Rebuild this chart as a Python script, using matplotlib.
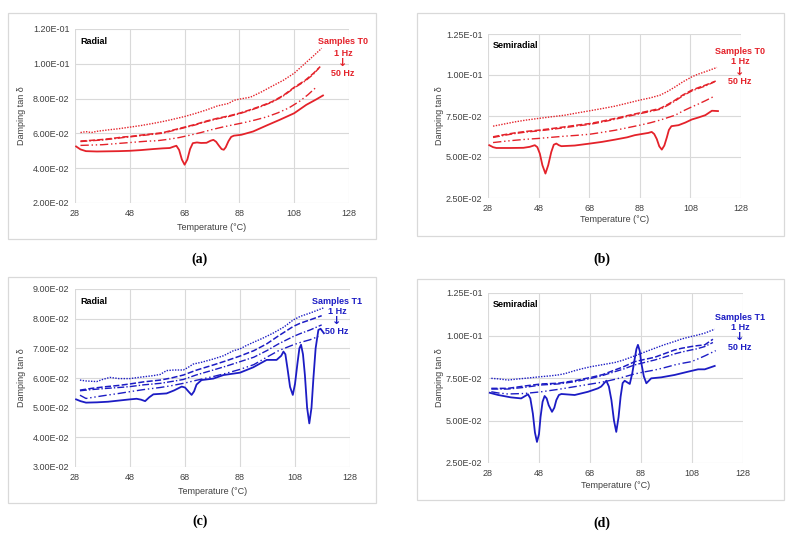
import matplotlib
matplotlib.use("Agg")
import matplotlib.pyplot as plt
from matplotlib.patches import Rectangle
from matplotlib.ticker import FuncFormatter

# ---------------- data ----------------
# Panel (a) Radial, T0
a_t1 = [30, 32, 34, 36, 40, 44, 48, 52, 56, 60, 64, 68, 72, 76, 80, 84, 86, 88, 92, 96, 100, 104, 108, 112, 115, 118]
a_v1 = [0.0605, 0.0610, 0.0605, 0.0612, 0.0620, 0.0627, 0.0636, 0.0645, 0.0656, 0.0668, 0.0682, 0.0697, 0.0715, 0.0735,
        0.0758, 0.0772, 0.0790, 0.0797, 0.0808, 0.0838, 0.0872, 0.0905, 0.0946, 0.1003, 0.1045, 0.1089]
a_t2 = [30, 34, 38, 42, 46, 48, 52, 56, 60, 64, 68, 72, 76, 80, 84, 88, 92, 96, 100, 104, 108, 112, 115, 117.5]
a_v2 = [0.0556, 0.0560, 0.0565, 0.0572, 0.0580, 0.0582, 0.0590, 0.0597, 0.0604, 0.0620, 0.0636, 0.0652, 0.0671, 0.0687,
        0.0700, 0.0716, 0.0736, 0.0758, 0.0783, 0.0818, 0.0865, 0.0905, 0.0945, 0.0984]
a_t3 = [30, 34, 38, 42, 46, 48, 52, 56, 60, 64, 68, 72, 76, 80, 84, 88, 92, 96, 100, 104, 108, 112, 115, 117]
a_v3 = [0.0553, 0.0558, 0.0562, 0.0569, 0.0577, 0.0580, 0.0587, 0.0594, 0.0601, 0.0617, 0.0633, 0.0649, 0.0668, 0.0684,
        0.0697, 0.0713, 0.0733, 0.0755, 0.0780, 0.0815, 0.0861, 0.0901, 0.0940, 0.0975]
a_t4 = [30, 34, 38, 42, 46, 50, 54, 58, 62, 66, 70, 74, 78, 82, 86, 90, 94, 98, 102, 106, 110, 113, 116]
a_v4 = [0.0531, 0.0533, 0.0535, 0.0540, 0.0545, 0.0550, 0.0555, 0.0558, 0.0566, 0.0576, 0.0590, 0.0605, 0.0622, 0.0637,
        0.0650, 0.0663, 0.0678, 0.0695, 0.0718, 0.0746, 0.0785, 0.0822, 0.0865]
a_t5 = [28.4, 30, 32, 36, 40, 44, 48, 52, 56.5, 60, 62.6, 64, 65, 66, 67, 68, 69, 70, 71, 72.5, 74, 76, 77.5, 78.5, 79.5,
        80.5, 81.5, 82.3, 83, 84, 85, 86, 88.7, 93, 98, 102.7, 108, 112.4, 116, 118.5]
a_v5 = [0.0525, 0.0508, 0.0498, 0.0496, 0.0497, 0.0498, 0.0500, 0.0504, 0.0510, 0.0514, 0.0516, 0.0524, 0.0529, 0.0505,
        0.0450, 0.0420, 0.0450, 0.0510, 0.0544, 0.0548, 0.0545, 0.0546, 0.0558, 0.0563, 0.0552, 0.0530, 0.0510, 0.0506,
        0.0520, 0.0555, 0.0580, 0.0587, 0.0592, 0.0611, 0.0646, 0.0678, 0.0716, 0.0764, 0.0795, 0.0818]

# Panel (b) Semiradial, T0
b_t1 = [30, 34, 38.6, 43, 47.8, 53, 58.4, 63, 68.3, 73, 78.2, 83, 88, 92, 96, 99, 102, 105, 108.6, 111, 113.9, 118.5]
b_v1 = [0.0688, 0.0700, 0.0714, 0.0725, 0.0735, 0.0745, 0.0755, 0.0768, 0.0782, 0.0795, 0.0810, 0.0828, 0.0847, 0.0860,
        0.0877, 0.0900, 0.0928, 0.0958, 0.0989, 0.1005, 0.1020, 0.1046]
b_t2 = [30, 34, 38.6, 43, 47.8, 53, 58.4, 63, 68.3, 73, 78.2, 83, 88, 92, 96, 99, 102, 105, 108.6, 111, 113.9, 118]
b_v2 = [0.0623, 0.0635, 0.0647, 0.0656, 0.0663, 0.0673, 0.0684, 0.0694, 0.0704, 0.0718, 0.0735, 0.0752, 0.0769, 0.0782,
        0.0796, 0.0820, 0.0847, 0.0878, 0.0908, 0.0922, 0.0938, 0.0963]
b_t3 = [30, 34, 38.6, 43, 47.8, 53, 58.4, 63, 68.3, 73, 78.2, 83, 88, 92, 96, 99, 102, 105, 108.6, 111, 113.9, 117.5]
b_v3 = [0.0619, 0.0631, 0.0643, 0.0652, 0.0659, 0.0668, 0.0679, 0.0689, 0.0699, 0.0713, 0.0730, 0.0747, 0.0764, 0.0777,
        0.0791, 0.0815, 0.0842, 0.0873, 0.0903, 0.0917, 0.0933, 0.0958]
b_t4 = [30, 34, 38.6, 43, 47.8, 53, 58.4, 63, 68.3, 73, 78.2, 83, 88, 92, 96, 99, 102, 105, 108.6, 111, 113.9, 117]
b_v4 = [0.0588, 0.0595, 0.0602, 0.0608, 0.0613, 0.0620, 0.0627, 0.0632, 0.0639, 0.0650, 0.0663, 0.0678, 0.0694, 0.0708,
        0.0725, 0.0740, 0.0755, 0.0780, 0.0806, 0.0822, 0.0843, 0.0867]
b_t5 = [28.5, 30, 31.3, 37, 42, 44.5, 46.5, 47.5, 48.5, 49.5, 50.7, 51.8, 53, 54, 55, 56, 57, 62.3, 68.3, 73, 78.2, 83, 86,
        91.4, 92.7, 93.7, 94.7, 95.7, 96.7, 97.7, 98.7, 99.5, 100.5, 103.3, 106, 108.6, 111, 113.9, 116.5, 118.9]
b_v5 = [0.0572, 0.0560, 0.0555, 0.0555, 0.0556, 0.0562, 0.0572, 0.0560, 0.0520, 0.0450, 0.0399, 0.0450, 0.0530, 0.0575,
        0.0582, 0.0572, 0.0566, 0.0570, 0.0582, 0.0592, 0.0606, 0.0620, 0.0633, 0.0647, 0.0653, 0.0640, 0.0610, 0.0565,
        0.0545, 0.0570, 0.0620, 0.0665, 0.0688, 0.0694, 0.0710, 0.0729, 0.0740, 0.0755, 0.0782, 0.0780]

# Panel (c) Radial, T1
c_t1 = [29.8, 32, 35.9, 38, 40.7, 44, 48, 52, 56.5, 59, 61.3, 64, 67.4, 69, 71, 74, 78.3, 82, 85.6, 88, 90, 92.8, 96, 100,
        104, 107.4, 110, 113.5, 118.3]
c_v1 = [0.0593, 0.0590, 0.0588, 0.0595, 0.0602, 0.0598, 0.0598, 0.0603, 0.0608, 0.0612, 0.0625, 0.0627, 0.0627, 0.0635,
        0.0647, 0.0653, 0.0664, 0.0675, 0.0692, 0.0698, 0.0708, 0.0720, 0.0733, 0.0751, 0.0772, 0.0796, 0.0808, 0.0819, 0.0836]
c_t2 = [29.8, 34, 39.5, 44, 48, 53, 59, 63, 67.4, 72, 78.3, 83, 88, 93, 97.7, 102, 107.4, 110, 113.5, 117.7]
c_v2 = [0.0559, 0.0565, 0.0571, 0.0575, 0.0580, 0.0587, 0.0593, 0.0600, 0.0610, 0.0626, 0.0644, 0.0658, 0.0674, 0.0692,
        0.0715, 0.0742, 0.0774, 0.0785, 0.0796, 0.0810]
c_t3 = [29.8, 34, 39.5, 44, 48, 53, 59, 63, 67.4, 72, 78.3, 83, 88, 93, 97.7, 102, 107.4, 110, 113.5, 117.7]
c_v3 = [0.0557, 0.0561, 0.0565, 0.0568, 0.0571, 0.0577, 0.0582, 0.0588, 0.0595, 0.0610, 0.0627, 0.0640, 0.0655, 0.0670,
        0.0692, 0.0715, 0.0740, 0.0750, 0.0762, 0.0779]
c_t4 = [29.8, 32, 36, 39.5, 44, 48, 53, 59, 63, 67.4, 72, 78.3, 83, 88, 93, 97.7, 102, 107.4, 110, 113.5, 116.5]
c_v4 = [0.0542, 0.0531, 0.0537, 0.0542, 0.0548, 0.0554, 0.0561, 0.0568, 0.0574, 0.0582, 0.0592, 0.0605, 0.0616, 0.0629,
        0.0645, 0.0670, 0.0692, 0.0712, 0.0720, 0.0729, 0.0740]
c_t5 = [28.4, 30, 32, 36, 40, 44, 48, 50.4, 52, 53.5, 55, 56.5, 61.3, 64, 66.8, 68, 69.5, 70.4, 71.3, 72.2, 74, 78.3, 82,
        88, 92.8, 97.7, 101.3, 103, 103.8, 104.5, 105.3, 106.2, 107.2, 108, 108.9, 109.6, 110.2, 110.9, 111.6, 112.4, 113.2,
        114, 114.7, 115.5, 116.5, 117.3, 118.5]
c_v5 = [0.0528, 0.0522, 0.0517, 0.0518, 0.0520, 0.0524, 0.0528, 0.0530, 0.0527, 0.0522, 0.0535, 0.0545, 0.0548, 0.0558,
        0.0571, 0.0568, 0.0552, 0.0543, 0.0555, 0.0578, 0.0593, 0.0598, 0.0610, 0.0618, 0.0636, 0.0661, 0.0661, 0.0675,
        0.0689, 0.0680, 0.0630, 0.0570, 0.0543, 0.0580, 0.0650, 0.0700, 0.0712, 0.0680, 0.0610, 0.0500, 0.0447, 0.0500,
        0.0600, 0.0700, 0.0762, 0.0766, 0.0751]

# Panel (d) Semiradial, T1
d_t1 = [29.3, 32, 35.8, 39, 42.4, 45, 48.9, 52, 55.5, 58, 62, 65, 68.5, 72, 77.7, 81, 85.5, 89, 93.4, 97, 101.2, 104,
        107.7, 110, 113, 116.9]
d_v1 = [0.0748, 0.0745, 0.0738, 0.0743, 0.0748, 0.0752, 0.0758, 0.0762, 0.0768, 0.0775, 0.0793, 0.0805, 0.0817, 0.0826,
        0.0841, 0.0855, 0.0880, 0.0900, 0.0925, 0.0945, 0.0965, 0.0980, 0.0994, 0.1002, 0.1014, 0.1037]
d_t2 = [29.3, 35.8, 42.4, 48.9, 55.5, 62, 68.5, 73, 77.7, 81, 85.5, 89, 93.4, 97, 101.2, 104, 107.7, 110, 113, 116.2]
d_v2 = [0.0689, 0.0689, 0.0703, 0.0715, 0.0719, 0.0734, 0.0754, 0.0770, 0.0797, 0.0815, 0.0846, 0.0858, 0.0872, 0.0892,
        0.0915, 0.0925, 0.0935, 0.0940, 0.0945, 0.0978]
d_t3 = [29.3, 35.8, 42.4, 48.9, 55.5, 62, 68.5, 73, 77.7, 81, 85.5, 89, 93.4, 97, 101.2, 104, 107.7, 110, 113, 116.2]
d_v3 = [0.0685, 0.0685, 0.0695, 0.0709, 0.0715, 0.0728, 0.0748, 0.0765, 0.0787, 0.0802, 0.0827, 0.0840, 0.0856, 0.0872,
        0.0892, 0.0903, 0.0915, 0.0922, 0.0935, 0.0959]
d_t4 = [29.3, 32, 35.8, 42.4, 48.9, 55.5, 62, 68.5, 73, 77.7, 81, 85.5, 89, 93.4, 97, 101.2, 104, 107.7, 110, 113, 117.3]
d_v4 = [0.0669, 0.0662, 0.0656, 0.0659, 0.0669, 0.0683, 0.0699, 0.0715, 0.0726, 0.0742, 0.0755, 0.0774, 0.0785, 0.0797,
        0.0810, 0.0827, 0.0836, 0.0846, 0.0860, 0.0880, 0.0911]
d_t5 = [28.7, 32, 37, 41, 43.7, 44.6, 45.6, 46.4, 47.2, 48, 48.6, 49.4, 50.2, 51, 51.8, 53.1, 54, 54.8, 55.8, 56.8, 62,
        67.2, 71.1, 72.4, 74.4, 75.4, 76.4, 77.4, 78.3, 79.2, 80, 80.8, 81.6, 83.6, 84.6, 85.5, 86.2, 86.8, 87.5, 88.1,
        89.1, 90.1, 92, 96, 101.2, 106.4, 110.4, 113, 116.9]
d_v5 = [0.0663, 0.0650, 0.0636, 0.0630, 0.0654, 0.0630, 0.0540, 0.0430, 0.0374, 0.0420, 0.0520, 0.0610, 0.0644, 0.0630,
        0.0590, 0.0551, 0.0575, 0.0620, 0.0650, 0.0656, 0.0650, 0.0669, 0.0689, 0.0700, 0.0734, 0.0700, 0.0620, 0.0500,
        0.0433, 0.0520, 0.0640, 0.0720, 0.0734, 0.0715, 0.0780, 0.0860, 0.0920, 0.0945, 0.0910, 0.0840, 0.0760, 0.0719,
        0.0748, 0.0754, 0.0768, 0.0787, 0.0801, 0.0801, 0.0821]

x_ticks = [28, 48, 68, 88, 108, 128]
a_yticks = [0.02, 0.04, 0.06, 0.08, 0.10, 0.12]
b_yticks = [0.025, 0.05, 0.075, 0.10, 0.125]
c_yticks = [0.03, 0.04, 0.05, 0.06, 0.07, 0.08, 0.09]
d_yticks = [0.025, 0.05, 0.075, 0.10, 0.125]

# ---------------- layout / styling ----------------
W, H = 795, 546
fig = plt.figure(figsize=(W / 100, H / 100), dpi=100)
plt.rcParams['font.family'] = ['Liberation Sans', 'DejaVu Sans']

RED = '#e4222a'
BLUE = '#1c1cc4'
GRID = '#d9d9d9'
TXT = '#404040'
styles = [
    dict(ls=(0, (1, 1)), lw=1.0),
    dict(ls=(0, (4, 1.5)), lw=1.1),
    dict(ls=(0, (5, 1.5, 1, 1.5)), lw=1.0),
    dict(ls=(0, (6, 2, 1, 2, 1, 2)), lw=1.0),
    dict(ls='-', lw=1.3),
]


def fx(px):
    return px / W


def fy(py):
    return 1 - py / H


def add_box(l, t, r, b):
    fig.patches.append(Rectangle((fx(l), fy(b)), fx(r) - fx(l), fy(t) - fy(b), transform=fig.transFigure,
                                 fill=False, edgecolor=GRID, lw=0.9))


def make_axes(l, t, r, b, yticks, series, color, title, legend_title, leg_x, leg_y,
              ylab_x, xlab_y, label, lab_x, lab_y):
    ax = fig.add_axes([fx(l), fy(b), fx(r) - fx(l), fy(t) - fy(b)])
    for (tt, vv), st in zip(series, styles):
        ax.plot(tt, vv, color=color, **st)
    ax.set_xlim(28, 128)
    ax.set_ylim(yticks[0], yticks[-1])
    ax.set_xticks(x_ticks)
    ax.set_yticks(yticks)
    ax.yaxis.set_major_formatter(FuncFormatter(lambda v, p: f"{v:.2E}"))
    ax.grid(True, color=GRID, lw=0.8)
    ax.set_axisbelow(True)
    for s in ax.spines.values():
        s.set_visible(False)
    ax.tick_params(length=0, labelsize=6.5, colors=TXT, pad=4)
    ax.text(0.02, 0.93, title, transform=ax.transAxes, fontsize=6.5, fontweight='bold', color='black', va='center')
    fig.text(fx(ylab_x), fy((t + b) / 2), 'Damping tan δ', rotation=90, fontsize=6.5, color=TXT,
             ha='center', va='center')
    fig.text(fx((l + r) / 2), fy(xlab_y), 'Temperature (°C)', fontsize=6.5, color=TXT, ha='center', va='center')
    fig.text(fx(leg_x), fy(leg_y[0]), legend_title, fontsize=6.5, fontweight='bold', color=color,
             ha='center', va='center')
    fig.text(fx(leg_x), fy(leg_y[1]), '1 Hz', fontsize=6.5, fontweight='bold', color=color, ha='center', va='center')
    fig.text(fx(leg_x), fy(leg_y[2]), '↓', fontsize=8, fontweight='bold', color=color, ha='center', va='center',
             family=['DejaVu Sans'])
    fig.text(fx(leg_x), fy(leg_y[3]), '50 Hz', fontsize=6.5, fontweight='bold', color=color, ha='center', va='center')
    fig.text(fx(lab_x), fy(lab_y), f'({label})', fontsize=10, fontweight='bold',
             family=['Liberation Serif', 'DejaVu Serif'], ha='center', va='center')
    return ax


add_box(8, 13, 376, 239)
add_box(417, 13, 784, 236)
add_box(8, 277, 376, 503)
add_box(417, 279, 784, 500)

make_axes(75, 29, 349, 203, a_yticks,
          [(a_t1, a_v1), (a_t2, a_v2), (a_t3, a_v3), (a_t4, a_v4), (a_t5, a_v5)],
          RED, 'Radial', 'Samples T0', 343, [42, 53, 63, 73], 22, 227, 'a', 200, 259)
make_axes(488, 34, 741, 198, b_yticks,
          [(b_t1, b_v1), (b_t2, b_v2), (b_t3, b_v3), (b_t4, b_v4), (b_t5, b_v5)],
          RED, 'Semiradial', 'Samples T0', 740, [52, 62, 72, 82], 440, 220, 'b', 602, 259)
make_axes(75, 289, 350, 467, c_yticks,
          [(c_t1, c_v1), (c_t2, c_v2), (c_t3, c_v3), (c_t4, c_v4), (c_t5, c_v5)],
          BLUE, 'Radial', 'Samples T1', 337, [301, 311, 321, 332], 22, 491, 'c', 200, 521)
make_axes(488, 293, 743, 463, d_yticks,
          [(d_t1, d_v1), (d_t2, d_v2), (d_t3, d_v3), (d_t4, d_v4), (d_t5, d_v5)],
          BLUE, 'Semiradial', 'Samples T1', 740, [317, 327, 337, 348], 440, 486, 'd', 602, 523)

fig.savefig('out.png', dpi=100)
